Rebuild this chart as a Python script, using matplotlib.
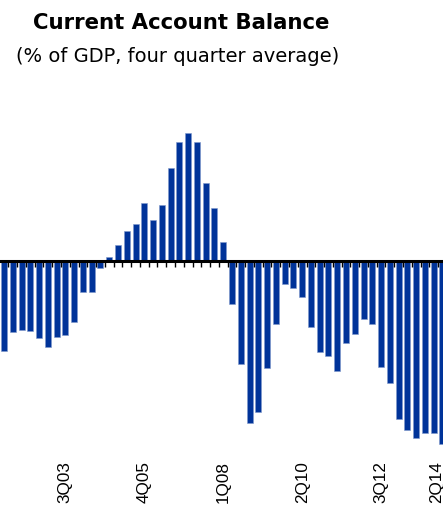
import matplotlib
matplotlib.use("Agg")
import matplotlib.pyplot as plt
import matplotlib.transforms as mtransforms
import numpy as np

plt.rcParams['font.family'] = ['Liberation Sans', 'DejaVu Sans']

# Quarters 4Q01 .. 2Q14 (51 quarters); values in % of GDP (approx.)
values = [-4.5, -3.55, -3.45, -3.5, -3.85, -4.3, -3.8, -3.7, -3.05, -1.55,
          -1.55, -0.35, 0.2, 0.8, 1.5, 1.85, 2.9, 2.05, 2.8, 4.65,
          5.95, 6.4, 5.95, 3.9, 2.65, 0.95, -2.15, -5.15, -8.1, -7.55,
          -5.35, -3.15, -1.15, -1.35, -1.8, -3.3, -4.55, -4.75, -5.5, -4.1,
          -3.65, -2.9, -3.15, -5.3, -6.1, -7.9, -8.45, -8.85, -8.6, -8.6,
          -9.15]
label_index = [7, 16, 25, 34, 43, 50]
tick_labels = ["3Q03", "4Q05", "1Q08", "2Q10", "3Q12", "2Q14"]

x = np.arange(len(values))

fig = plt.figure(figsize=(4.43, 5.06), dpi=100)
ax = fig.add_axes([0.0, 1 - 455 / 506, 1.0, 345 / 506])

ax.bar(x, values, width=0.68, color='#003399', edgecolor='#7f99cc', linewidth=0.4)
ax.set_xlim(-0.456, 50.06)
ax.set_ylim(-9.665, 7.585)

for s in ax.spines.values():
    s.set_visible(False)
ax.spines['bottom'].set_visible(True)
ax.spines['bottom'].set_position(('data', 0))
ax.spines['bottom'].set_linewidth(2.2)
ax.spines['bottom'].set_zorder(3)
ax.set_yticks([])
ax.set_xticks(x[:-1] + 0.5, minor=True)
ax.set_xticks([])
ax.tick_params(axis='x', which='minor', direction='out', length=4, width=1, color='black')

trans = mtransforms.blended_transform_factory(ax.transData, fig.transFigure)
for i, lab in zip(label_index, tick_labels):
    xi = i - 0.7 if i == len(values) - 1 else i
    ax.text(xi, 1 - 503 / 506, lab, rotation=90, ha='center', va='bottom',
            fontsize=12.3, transform=trans, clip_on=False)

fig.text(181 / 443, 1 - 23 / 506, "Current Account Balance", ha='center', va='center',
         fontsize=15.3, fontweight='bold', family=['DejaVu Sans'])
fig.text(177.5 / 443, 1 - 56 / 506, "(% of GDP, four quarter average)", ha='center', va='center',
         fontsize=14, family=['DejaVu Sans'])

fig.savefig("out.png", dpi=100)
